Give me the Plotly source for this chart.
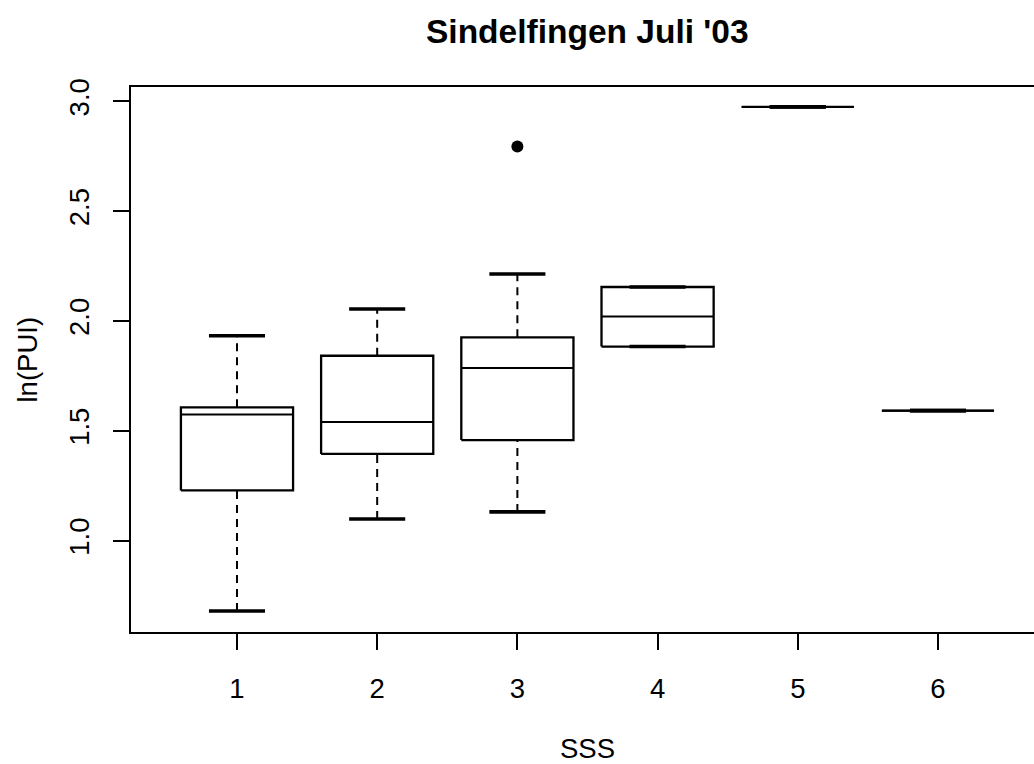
import plotly.graph_objects as go

# SSS groups and their five-number summaries of ln(PUI)
groups = [1, 2, 3, 4, 5, 6]
whisker_low = [0.680, 1.099, 1.131, 1.884, 2.975, 1.592]
q1 = [1.229, 1.395, 1.458, 1.884, 2.975, 1.592]
median = [1.574, 1.540, 1.786, 2.021, 2.975, 1.592]
q3 = [1.607, 1.842, 1.926, 2.155, 2.975, 1.592]
whisker_high = [1.933, 2.055, 2.214, 2.155, 2.975, 1.592]
outlier_group = [3]
outlier_value = [2.795]

y_ticks = [1.0, 1.5, 2.0, 2.5, 3.0]
y_tick_text = ["1.0", "1.5", "2.0", "2.5", "3.0"]

BOX_HALF = 0.4
CAP_HALF = 0.2
FONT = "Liberation Sans, Arial, Helvetica, sans-serif"

box_x, box_y = [], []
med_x, med_y = [], []
wh_x, wh_y = [], []
cap_x, cap_y = [], []
for g, lo, a, m, b, hi in zip(groups, whisker_low, q1, median, q3, whisker_high):
    box_x += [g - BOX_HALF, g + BOX_HALF, g + BOX_HALF, g - BOX_HALF, g - BOX_HALF, None]
    box_y += [a, a, b, b, a, None]
    med_x += [g - BOX_HALF, g + BOX_HALF, None]
    med_y += [m, m, None]
    if hi > b:
        wh_x += [g, g, None]
        wh_y += [b, hi, None]
    if lo < a:
        wh_x += [g, g, None]
        wh_y += [lo, a, None]
    cap_x += [g - CAP_HALF, g + CAP_HALF, None, g - CAP_HALF, g + CAP_HALF, None]
    cap_y += [hi, hi, None, lo, lo, None]

fig = go.Figure()
fig.add_trace(go.Scatter(x=wh_x, y=wh_y, mode="lines",
                         line=dict(color="black", width=2, dash="8px,6px"),
                         hoverinfo="skip"))
fig.add_trace(go.Scatter(x=box_x, y=box_y, mode="lines",
                         line=dict(color="black", width=2.3), hoverinfo="skip"))
fig.add_trace(go.Scatter(x=med_x, y=med_y, mode="lines",
                         line=dict(color="black", width=2), hoverinfo="skip"))
fig.add_trace(go.Scatter(x=cap_x, y=cap_y, mode="lines",
                         line=dict(color="black", width=3.6), hoverinfo="skip"))
fig.add_trace(go.Scatter(x=outlier_group, y=outlier_value, mode="markers",
                         marker=dict(color="black", size=12), hoverinfo="skip"))

fig.update_layout(
    width=1034, height=764,
    margin=dict(l=131, r=0, t=87, b=132),
    paper_bgcolor="white", plot_bgcolor="white",
    showlegend=False,
    font=dict(family=FONT, size=27.5, color="black"),
    xaxis=dict(
        range=[0.244, 6.685], tickmode="array", tickvals=groups,
        ticktext=[str(g) for g in groups],
        showgrid=False, zeroline=False,
        showline=True, linecolor="black", linewidth=2.2, mirror=True,
        ticks="outside", ticklen=16, tickwidth=1.6, tickcolor="black",
        ticklabelstandoff=15,
    ),
    yaxis=dict(
        range=[0.5843, 3.0656], tickmode="array", tickvals=y_ticks,
        ticktext=y_tick_text, tickangle=-90,
        showgrid=False, zeroline=False,
        showline=True, linecolor="black", linewidth=2.2, mirror=False,
        ticks="outside", ticklen=16, tickwidth=1.6, tickcolor="black",
        ticklabelstandoff=13,
    ),
    annotations=[
        dict(text="<b>Sindelfingen Juli '03</b>", xref="x", yref="paper",
             x=3.5, y=1, yshift=56, xanchor="center", yanchor="middle",
             showarrow=False, font=dict(size=33.5, family=FONT)),
        dict(text="SSS", xref="x", yref="paper", x=3.5, y=0, yshift=-116,
             xanchor="center", yanchor="middle", showarrow=False,
             borderpad=0, font=dict(size=27.5, family=FONT)),
        dict(text="ln(PUI)", xref="paper", yref="paper", x=0, y=0.5,
             xshift=-104, xanchor="center", yanchor="middle", textangle=-90,
             showarrow=False, font=dict(size=27.5, family=FONT)),
    ],
)

fig.write_html("out.html")
